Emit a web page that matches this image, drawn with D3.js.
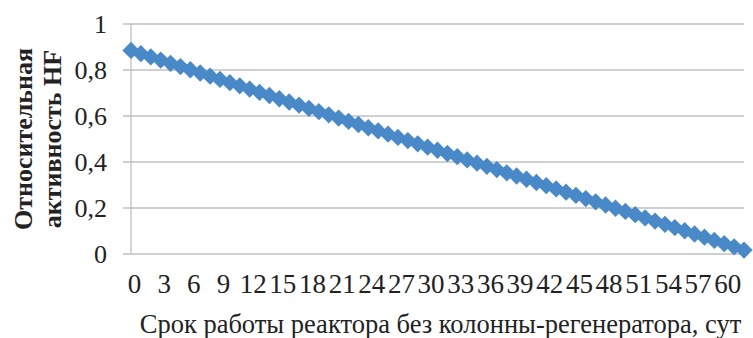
<!DOCTYPE html>
<html><head><meta charset="utf-8">
<script src="https://cdn.jsdelivr.net/npm/d3@7"></script>
<style>html,body{margin:0;padding:0;background:#fff;}svg{display:block;}</style>
</head><body>
<svg id="c" width="753" height="338"></svg>
<script>
const days = d3.range(0, 63);
const activity = [0.885,0.871,0.857,0.843,0.829,0.815,0.801,0.787,0.773,0.759,0.745,0.731,0.717,0.703,0.689,0.675,0.661,0.647,0.633,0.619,0.605,0.591,0.577,0.563,0.549,0.535,0.521,0.507,0.493,0.479,0.465,0.451,0.437,0.423,0.409,0.395,0.381,0.367,0.353,0.339,0.325,0.311,0.297,0.283,0.269,0.255,0.241,0.227,0.213,0.199,0.185,0.171,0.157,0.143,0.129,0.115,0.101,0.087,0.073,0.059,0.045,0.031,0.017];
const xTickLabels = [0,3,6,9,12,15,18,21,24,27,30,33,36,39,42,45,48,51,54,57,60];
const yTickValues = [0,0.2,0.4,0.6,0.8,1];
const xTitle = "Срок работы реактора без колонны-регенератора, сут";
const yTitle1 = "Относительная";
const yTitle2 = "активность  HF";

const svg = d3.select("#c");
const L = 131, R = 744, T = 24, B = 254;
const x = d3.scalePoint().domain(days).range([L, R]);
const y = d3.scaleLinear().domain([0, 1]).range([B, T]);
const font = "Liberation Serif";

svg.append("g").selectAll("line").data(yTickValues).join("line")
  .attr("x1", L - 8).attr("x2", R).attr("y1", d => y(d)).attr("y2", d => y(d))
  .attr("stroke", "#c0c0c0").attr("stroke-width", 1.3);
svg.append("line").attr("x1", L).attr("x2", L).attr("y1", T).attr("y2", B)
  .attr("stroke", "#c0c0c0").attr("stroke-width", 1.3);

const yAxis = d3.axisLeft(y).tickValues(yTickValues).tickSize(0).tickPadding(24)
  .tickFormat(d => String(+d.toFixed(1)).replace(".", ","));
const gy = svg.append("g").attr("transform", `translate(${L},0)`).call(yAxis)
  .attr("font-family", font).attr("font-size", 26);
gy.select(".domain").remove();
gy.selectAll("text").attr("fill", "#222");

const xAxis = d3.axisBottom(x).tickValues(xTickLabels).tickSize(0).tickPadding(20);
const gx = svg.append("g").attr("transform", `translate(0,${B})`).call(xAxis)
  .attr("font-family", font).attr("font-size", 27);
gx.select(".domain").remove();
gx.selectAll("text").attr("fill", "#222").attr("dx", 3);

svg.append("g").selectAll("path").data(days).join("path")
  .attr("d", d3.symbol(d3.symbolSquare, 150)())
  .attr("transform", (d, i) => `translate(${x(d)},${y(activity[i])}) rotate(45)`)
  .attr("fill", "#4a89c8");

svg.append("text").attr("x", (L + R) / 2 + 3).attr("y", 333).attr("text-anchor", "middle")
  .attr("font-family", font).attr("font-size", 26.5).attr("fill", "#222").text(xTitle);
const yt = svg.append("text").attr("transform", `translate(0,${(T + B) / 2}) rotate(-90)`)
  .attr("text-anchor", "middle").attr("font-family", font).attr("font-size", 26)
  .attr("font-weight", "bold").attr("fill", "#222");
yt.append("tspan").attr("x", 0).attr("y", 32).text(yTitle1);
yt.append("tspan").attr("x", 0).attr("y", 61).text(yTitle2);
</script>
</body></html>
